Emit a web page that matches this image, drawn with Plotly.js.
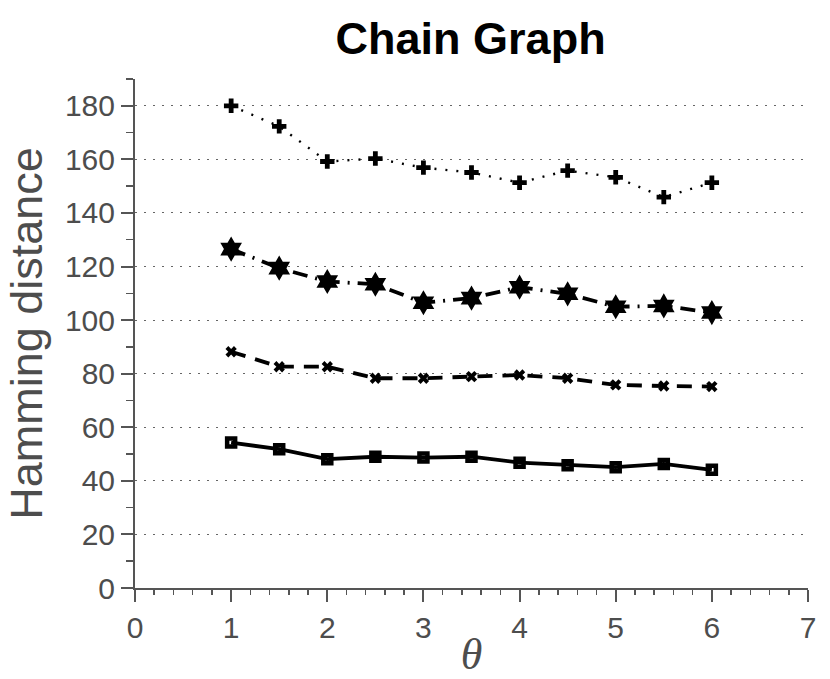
<!DOCTYPE html>
<html>
<head>
<meta charset="utf-8">
<script src="https://cdn.plot.ly/plotly-3.0.1.min.js"></script>
<style>html,body{margin:0;padding:0;background:#fff;}#chart{width:830px;height:679px;}</style>
</head>
<body>
<div id="chart"></div>
<script>
const theta = [1, 1.5, 2, 2.5, 3, 3.5, 4, 4.5, 5, 5.5, 6];
const seriesPlus = [180, 172.3, 159.2, 160.3, 156.9, 155.1, 151.3, 155.8, 153.3, 145.9, 151.3];
const seriesStar = [126.5, 119.4, 114.4, 113.4, 106.5, 108.2, 112.3, 109.8, 105.0, 105.3, 102.8];
const seriesX = [88.2, 82.6, 82.6, 78.3, 78.3, 78.9, 79.5, 78.3, 75.8, 75.4, 75.2];
const seriesSquare = [54.3, 51.8, 48.1, 49.0, 48.7, 49.0, 46.8, 45.8, 45.1, 46.3, 44.1];
const xTicks = [0, 1, 2, 3, 4, 5, 6, 7];
const yTicks = [0, 20, 40, 60, 80, 100, 120, 140, 160, 180];

const traces = [
  {x: theta, y: seriesPlus, mode: 'lines+markers', line: {color: '#000', width: 2.4, dash: '2px,9px'},
   marker: {symbol: 'cross', size: 12, color: '#000'}},
  {x: theta, y: seriesStar, mode: 'lines+markers', line: {color: '#000', width: 3.8, dash: '15px,8px,2px,8px'},
   marker: {symbol: 'hexagram', size: 19, color: '#000'}},
  {x: theta, y: seriesX, mode: 'lines+markers', line: {color: '#000', width: 3.8, dash: '15px,10px'},
   marker: {symbol: 'x', size: 10, color: '#000'}},
  {x: theta, y: seriesSquare, mode: 'lines+markers', line: {color: '#000', width: 3.8},
   marker: {symbol: 'square-open', size: 8, color: '#000', line: {width: 4.5, color: '#000'}}}
];

const layout = {
  width: 830, height: 679,
  margin: {l: 135, r: 22, t: 79, b: 91},
  paper_bgcolor: '#fff', plot_bgcolor: '#fff',
  showlegend: false,
  font: {family: 'Liberation Sans, Arial, sans-serif', color: '#4d4d4d'},
  title: {text: '<b>Chain Graph</b>', font: {family: 'Liberation Sans, Arial, sans-serif', size: 45, color: '#000'},
          x: 0.567, xanchor: 'center', y: 0.944, yanchor: 'middle'},
  xaxis: {
    range: [0, 7], tickvals: xTicks, ticktext: xTicks.map(String),
    showgrid: false, zeroline: false, showline: true, linecolor: '#555', linewidth: 2,
    ticks: 'outside', ticklen: 12, tickwidth: 2, tickcolor: '#555',
    tickfont: {size: 30, color: '#4d4d4d'},
    minor: {dtick: 0.2, ticks: 'outside', ticklen: 5, tickwidth: 1.5, tickcolor: '#555', showgrid: false},
    title: {text: '<i>θ</i>', font: {family: 'Liberation Serif, DejaVu Serif, serif', size: 44, color: '#4d4d4d'}, standoff: 6}
  },
  yaxis: {
    range: [0, 190], tickvals: yTicks, ticktext: yTicks.map(String),
    showgrid: true, gridcolor: '#666', gridwidth: 1, griddash: '1.5px,7.5px',
    zeroline: false, showline: true, linecolor: '#555', linewidth: 2,
    ticks: 'outside', ticklen: 12, tickwidth: 2, tickcolor: '#555',
    tickfont: {size: 30, color: '#4d4d4d'},
    minor: {dtick: 10, ticks: 'outside', ticklen: 7, tickwidth: 1.5, tickcolor: '#555', showgrid: false},
    title: {text: 'Hamming distance', font: {size: 45, color: '#4d4d4d'}, standoff: 8}
  }
};

Plotly.newPlot('chart', traces, layout, {displayModeBar: false, staticPlot: true});
</script>
</body>
</html>
